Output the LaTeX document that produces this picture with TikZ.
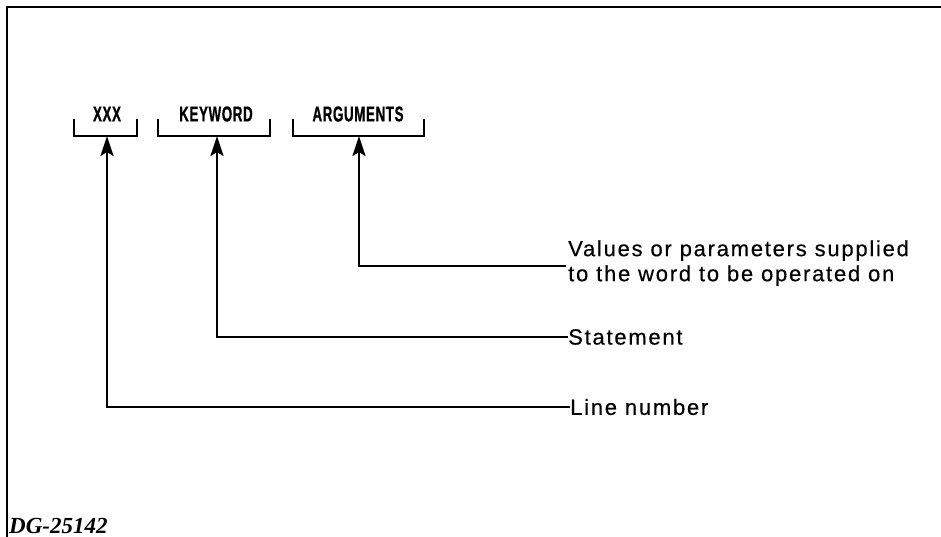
\documentclass[tikz,border=0pt]{standalone}
\usepackage{fontspec}
\setmainfont{Liberation Sans}
\newfontfamily\lblfont{Liberation Sans}[LetterSpace=8,FakeBold=0.4]
\newfontfamily\condfont{Liberation Sans}[FakeStretch=0.62,LetterSpace=3,FakeBold=0.8]
\newfontfamily\tagfont{Liberation Serif}
\usetikzlibrary{arrows.meta}
\tikzset{
  frame/.style={line width=2pt},
  bracket/.style={line width=2.4pt},
  conn/.style={line width=2.6pt,-{Stealth[length=20pt,width=13pt,inset=4pt]}},
  toplbl/.style={inner sep=0pt,font=\condfont\bfseries\fontsize{21.5}{22}\selectfont},
  desc/.style={inner sep=0pt,anchor=west,align=left,font=\lblfont\fontsize{22}{25}\selectfont},
}
\begin{document}
\begin{tikzpicture}[x=1pt,y=-1pt]
\useasboundingbox (0,0) rectangle (941,537);
% frame
\draw[frame] (941,7) -- (7,7) -- (7,537);
% labels
\node[toplbl] (xxx) at (107,114) {XXX};
\node[toplbl] (kw) at (216,114) {KEYWORD};
\node[toplbl] (args) at (358,114) {ARGUMENTS};
% brackets
\draw[bracket] (74,119) -- (74,136) -- (137,136) -- (137,119);
\draw[bracket] (158,119) -- (158,136) -- (270,136) -- (270,119);
\draw[bracket] (293,119) -- (293,136) -- (424,136) -- (424,119);
\coordinate (xb) at (107,136);
\coordinate (kb) at (217,136);
\coordinate (ab) at (359,136);
% descriptions
\node[desc] (vals) at (568,263) {Values or parameters supplied\\to the word to be operated on};
\node[desc] (stmt) at (568,337) {Statement};
\node[desc] (lnum) at (570,407) {Line number};
\coordinate (ae) at (566,266);
% connectors
\draw[conn] (ae) -| (ab);
\draw[conn] (stmt.west) -| (kb);
\draw[conn] (lnum.west) -| (xb);
% tag
\node[inner sep=0pt,anchor=south west,font=\tagfont\bfseries\itshape\fontsize{23}{24}\selectfont] (tag) at (9,534) {DG-25142};
\end{tikzpicture}
\end{document}
